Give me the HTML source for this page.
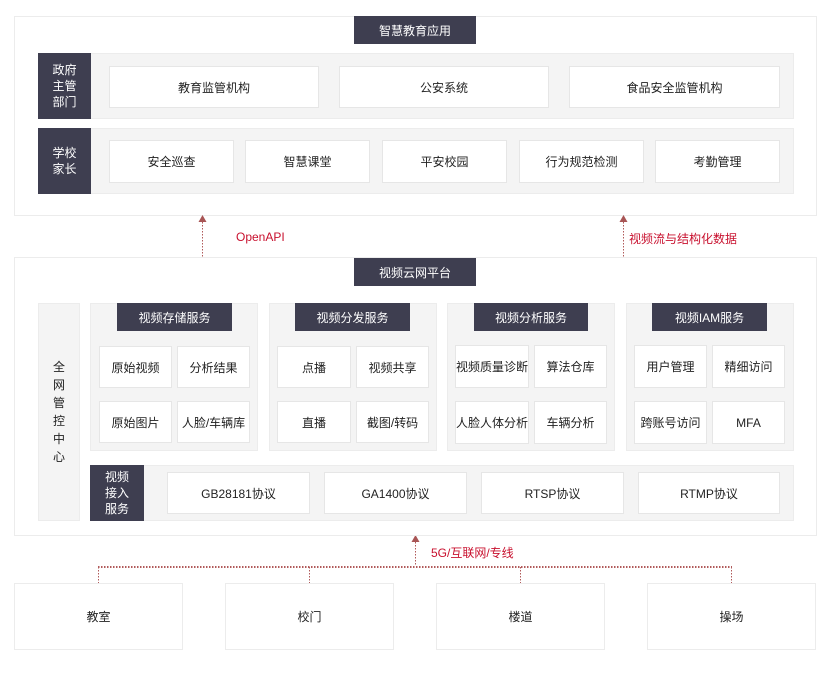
<!DOCTYPE html>
<html><head><meta charset="utf-8"><style>
*{margin:0;padding:0;box-sizing:border-box}
body{width:832px;height:674px;background:#fff;position:relative;font-family:"Liberation Sans","Noto Sans CJK SC",sans-serif;font-size:12px;color:#222;overflow:hidden}
.a{position:absolute;display:flex;align-items:center;justify-content:center;text-align:center}
.o{border:1px solid #ececec;background:#fff}
.d{background:#3e3e50;color:#fff}
.p{background:#f4f4f4;border:1px solid #ececec}
.w{background:#fff;border:1px solid #e6e6e6}
.r{position:absolute;color:#c8102e;font-size:12px}
</style></head><body>
<!-- top section -->
<div class="a o" style="left:14px;top:16px;width:803px;height:200px"></div>
<div class="a d" style="left:354px;top:16px;width:122px;height:28px">智慧教育应用</div>
<div class="a p" style="left:38px;top:53px;width:756px;height:66px"></div>
<div class="a d" style="left:38px;top:53px;width:53px;height:66px;line-height:16px">政府<br>主管<br>部门</div>
<div class="a w" style="left:109px;top:66px;width:210px;height:42px">教育监管机构</div>
<div class="a w" style="left:339px;top:66px;width:210px;height:42px">公安系统</div>
<div class="a w" style="left:569px;top:66px;width:211px;height:42px">食品安全监管机构</div>
<div class="a p" style="left:38px;top:128px;width:756px;height:66px"></div>
<div class="a d" style="left:38px;top:128px;width:53px;height:66px;line-height:16px">学校<br>家长</div>
<div class="a w" style="left:109px;top:140px;width:125px;height:43px">安全巡查</div>
<div class="a w" style="left:245px;top:140px;width:125px;height:43px">智慧课堂</div>
<div class="a w" style="left:382px;top:140px;width:125px;height:43px">平安校园</div>
<div class="a w" style="left:519px;top:140px;width:125px;height:43px">行为规范检测</div>
<div class="a w" style="left:655px;top:140px;width:125px;height:43px">考勤管理</div>

<!-- arrows middle -->
<svg style="position:absolute;left:0;top:0" width="832" height="674">
<g stroke="#b05a5a" stroke-width="1" stroke-dasharray="1.5 1.5" fill="none">
<line x1="202.5" y1="222" x2="202.5" y2="258"/>
<line x1="623.5" y1="222" x2="623.5" y2="258"/>
<line x1="415.5" y1="542" x2="415.5" y2="566"/>
<line x1="98" y1="566.5" x2="732" y2="566.5"/>
<line x1="98" y1="567.5" x2="732" y2="567.5"/>
<line x1="98.5" y1="567" x2="98.5" y2="583"/>
<line x1="309.5" y1="567" x2="309.5" y2="583"/>
<line x1="520.5" y1="567" x2="520.5" y2="583"/>
<line x1="731.5" y1="567" x2="731.5" y2="583"/>
</g>
<g fill="#a85555">
<polygon points="202.5,215 198.5,222 206.5,222"/>
<polygon points="623.5,215 619.5,222 627.5,222"/>
<polygon points="415.5,535 411.5,542 419.5,542"/>
</g>
</svg>
<div class="r" style="left:236px;top:230px">OpenAPI</div>
<div class="r" style="left:629px;top:230px">视频流与结构化数据</div>
<div class="r" style="left:431px;top:544px">5G/互联网/专线</div>

<!-- middle section -->
<div class="a o" style="left:14px;top:257px;width:803px;height:279px"></div>
<div class="a d" style="left:354px;top:258px;width:122px;height:28px">视频云网平台</div>
<div class="a p" style="left:38px;top:303px;width:42px;height:218px;line-height:18px">全<br>网<br>管<br>控<br>中<br>心</div>

<div class="a p" style="left:90px;top:303px;width:168px;height:148px"></div>
<div class="a d" style="left:117px;top:303px;width:115px;height:28px">视频存储服务</div>
<div class="a w" style="left:99px;top:346px;width:73px;height:42px">原始视频</div>
<div class="a w" style="left:177px;top:346px;width:73px;height:42px">分析结果</div>
<div class="a w" style="left:99px;top:401px;width:73px;height:42px">原始图片</div>
<div class="a w" style="left:177px;top:401px;width:73px;height:42px">人脸/车辆库</div>

<div class="a p" style="left:269px;top:303px;width:168px;height:148px"></div>
<div class="a d" style="left:295px;top:303px;width:115px;height:28px">视频分发服务</div>
<div class="a w" style="left:277px;top:346px;width:74px;height:42px">点播</div>
<div class="a w" style="left:356px;top:346px;width:73px;height:42px">视频共享</div>
<div class="a w" style="left:277px;top:401px;width:74px;height:42px">直播</div>
<div class="a w" style="left:356px;top:401px;width:73px;height:42px">截图/转码</div>

<div class="a p" style="left:447px;top:303px;width:168px;height:148px"></div>
<div class="a d" style="left:474px;top:303px;width:114px;height:28px">视频分析服务</div>
<div class="a w" style="left:455px;top:345px;width:74px;height:43px">视频质量诊断</div>
<div class="a w" style="left:534px;top:345px;width:73px;height:43px">算法仓库</div>
<div class="a w" style="left:455px;top:401px;width:74px;height:43px">人脸人体分析</div>
<div class="a w" style="left:534px;top:401px;width:73px;height:43px">车辆分析</div>

<div class="a p" style="left:626px;top:303px;width:168px;height:148px"></div>
<div class="a d" style="left:652px;top:303px;width:115px;height:28px">视频IAM服务</div>
<div class="a w" style="left:634px;top:345px;width:73px;height:43px">用户管理</div>
<div class="a w" style="left:712px;top:345px;width:73px;height:43px">精细访问</div>
<div class="a w" style="left:634px;top:401px;width:73px;height:43px">跨账号访问</div>
<div class="a w" style="left:712px;top:401px;width:73px;height:43px">MFA</div>

<div class="a p" style="left:90px;top:465px;width:704px;height:56px"></div>
<div class="a d" style="left:90px;top:465px;width:54px;height:56px;line-height:16px">视频<br>接入<br>服务</div>
<div class="a w" style="left:167px;top:472px;width:143px;height:42px">GB28181协议</div>
<div class="a w" style="left:324px;top:472px;width:143px;height:42px">GA1400协议</div>
<div class="a w" style="left:481px;top:472px;width:143px;height:42px">RTSP协议</div>
<div class="a w" style="left:638px;top:472px;width:142px;height:42px">RTMP协议</div>

<!-- bottom -->
<div class="a o" style="left:14px;top:583px;width:169px;height:67px">教室</div>
<div class="a o" style="left:225px;top:583px;width:169px;height:67px">校门</div>
<div class="a o" style="left:436px;top:583px;width:169px;height:67px">楼道</div>
<div class="a o" style="left:647px;top:583px;width:169px;height:67px">操场</div>
</body></html>
